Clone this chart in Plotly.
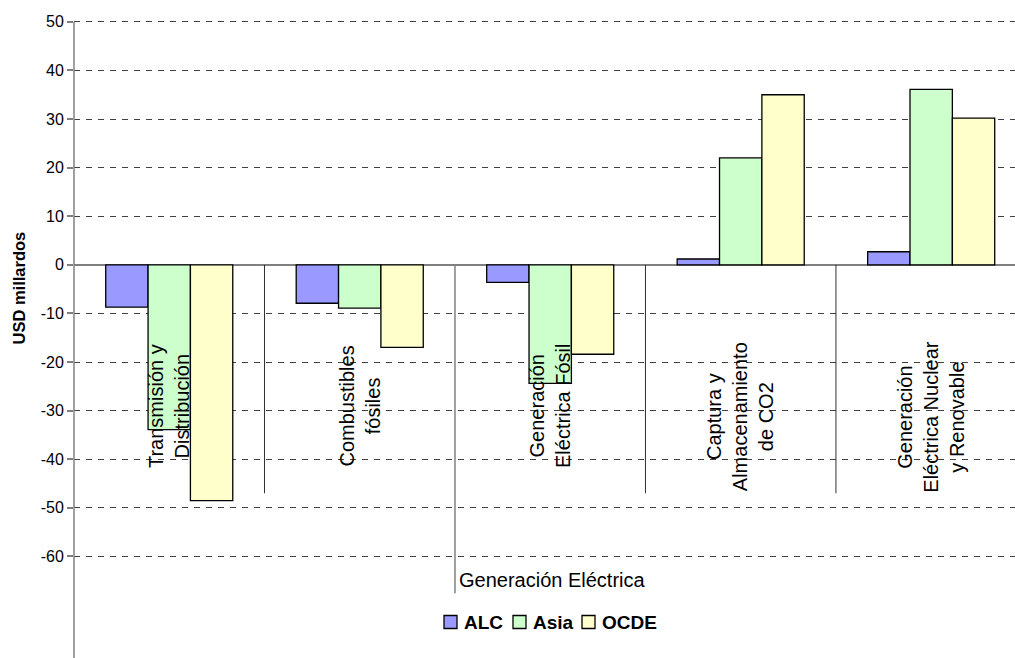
import plotly.graph_objects as go

# Investment change by sector and region (USD billions)
categories = [
    "Transmisión y<br>Distribución",
    "Combustibles<br>fósiles",
    "Generación<br>Eléctrica Fósil",
    "Captura y<br>Almacenamiento<br>de CO2",
    "Generación<br>Eléctrica Nuclear<br>y Renovable",
]
alc = [-8.7, -7.9, -3.6, 1.2, 2.7]
asia = [-33.9, -8.9, -24.4, 22.0, 36.1]
ocde = [-48.5, -17.0, -18.4, 35.0, 30.2]
series_names = ["ALC", "Asia", "OCDE"]
series_colors = ["#9999FF", "#CCFFCC", "#FFFFCC"]
y_ticks = [-60, -50, -40, -30, -20, -10, 0, 10, 20, 30, 40, 50]
y_tick_text = [str(v) for v in y_ticks]
group_label = "Generación Eléctrica"
y_title = "USD millardos"

FONT = "Liberation Sans, Arial, sans-serif"
W, H = 1015, 658
ML, MT = 74, 17


def paper_x(px):
    return (px - ML) / (W - ML)


def paper_y(py):
    return (H - py) / (H - MT)


fig = go.Figure()
for name, vals, col in zip(series_names, [alc, asia, ocde], series_colors):
    fig.add_trace(go.Bar(
        x=categories, y=vals, name=name,
        marker=dict(color=col, line=dict(color="#000000", width=1.3)),
    ))

fig.update_layout(
    width=W, height=H,
    margin=dict(l=ML, r=0, t=MT, b=0),
    plot_bgcolor="white", paper_bgcolor="white",
    barmode="group", bargap=0.333, bargroupgap=0,
    showlegend=False,
    font=dict(family=FONT, color="#000000"),
)

fig.update_xaxes(
    type="category", range=[-0.5, 4.44],
    showticklabels=False, showgrid=False, zeroline=False, showline=False,
    ticks="",
)
fig.update_yaxes(
    range=[-80.9, 51.0], tickvals=y_ticks, ticktext=y_tick_text,
    showgrid=True, gridcolor="#404040", gridwidth=1, griddash="6px,6px",
    zeroline=True, zerolinecolor="#808080", zerolinewidth=1.5,
    showline=False, ticks="outside", ticklen=6, tickcolor="#808080", tickwidth=1.5,
    tickfont=dict(size=16, family=FONT, color="#000000"),
)

shapes = []
# Value axis line, running from the top gridline to the bottom of the chart
shapes.append(dict(type="line", xref="paper", yref="y", x0=0, x1=0, y0=50, y1=-80.9,
                   line=dict(color="#808080", width=1.5)))
# Category separators below the zero line
for xb in [0.5, 2.5, 3.5]:
    shapes.append(dict(type="line", xref="x", yref="y", x0=xb, x1=xb, y0=0, y1=-47,
                       line=dict(color="#303030", width=1)))
shapes.append(dict(type="line", xref="x", yref="y", x0=1.5, x1=1.5, y0=0, y1=-67.6,
                   line=dict(color="#808080", width=1.5)))

annotations = []
# Rotated category labels inside the plot; taller blocks sit a little lower
for cat in categories:
    n_lines = cat.count("<br>") + 1
    annotations.append(dict(
        x=cat, y=-29.0 - 2.2 * (n_lines - 2), xref="x", yref="y", text=cat,
        showarrow=False, textangle=-90, xanchor="center", yanchor="middle",
        align="center", font=dict(size=20, family=FONT, color="#000000"),
    ))
# Group label under the electricity categories
annotations.append(dict(
    x=1.5, y=-64.9, xref="x", yref="y", text=group_label, showarrow=False,
    xanchor="left", yanchor="middle", xshift=2,
    font=dict(size=20, family=FONT, color="#000000"),
))
# Axis title
annotations.append(dict(
    x=paper_x(18.5), y=paper_y(288), xref="paper", yref="paper", text=f"<b>{y_title}</b>",
    showarrow=False, textangle=-90, xanchor="center", yanchor="middle",
    font=dict(size=16.5, family=FONT, color="#000000"),
))

# Legend row
legend_sq_left = [444, 513, 582]
for left, name, col in zip(legend_sq_left, series_names, series_colors):
    shapes.append(dict(type="rect", xref="paper", yref="paper",
                       x0=paper_x(left), x1=paper_x(left + 13),
                       y0=paper_y(628.5), y1=paper_y(615.5),
                       fillcolor=col, line=dict(color="#000000", width=1.3)))
    annotations.append(dict(
        x=paper_x(left + 18), y=paper_y(622), xref="paper", yref="paper",
        text=f"<b>{name}</b>", showarrow=False, xanchor="left", yanchor="middle",
        font=dict(size=19, family=FONT, color="#000000"),
    ))

fig.update_layout(shapes=shapes, annotations=annotations)
fig.write_html("out.html")
